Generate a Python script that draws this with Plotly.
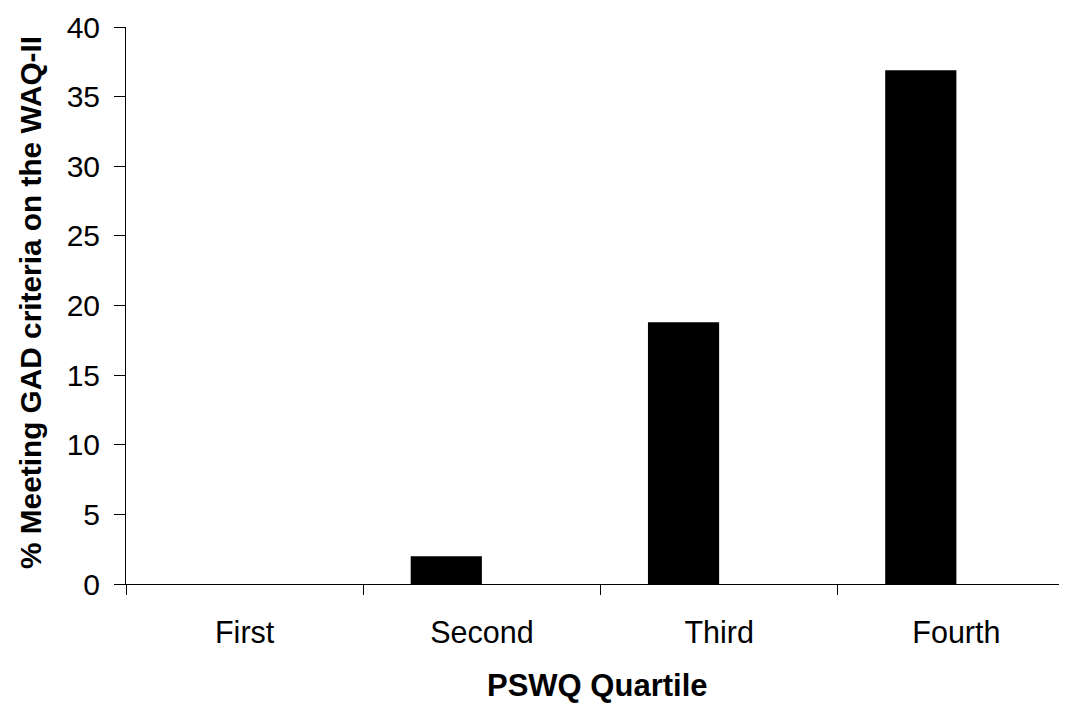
import plotly.graph_objects as go

categories = ["First", "Second", "Third", "Fourth"]
values = [0, 2, 18.8, 36.9]
y_ticks = [0, 5, 10, 15, 20, 25, 30, 35, 40]

FONT = "Liberation Sans, Arial, sans-serif"

fig = go.Figure()
fig.add_trace(go.Bar(
    x=categories, y=values,
    marker=dict(color="black", line=dict(width=0)),
    width=0.3, offset=-0.3,
    showlegend=False,
))

W, H = 1067, 704
ml, mr, mt, mb = 118, 0, 19, 128
pw = W - ml - mr
ph = H - mt - mb
base = mt + ph  # figure y of the x axis

fig.update_layout(
    width=W, height=H,
    margin=dict(l=ml, r=mr, t=mt, b=mb),
    paper_bgcolor="white", plot_bgcolor="white",
    font=dict(family=FONT, color="black", size=30),
    xaxis=dict(
        type="category",
        range=[-0.5, 3.5],
        showline=True, linecolor="black", linewidth=1,
        ticks="outside", tickson="boundaries", ticklen=10, tickcolor="black",
        showgrid=False, zeroline=False,
        tickfont=dict(size=30.5),
        ticklabelstandoff=21,
    ),
    yaxis=dict(
        range=[0, 40],
        tickvals=y_ticks,
        showline=True, linecolor="black", linewidth=1,
        ticks="outside", ticklen=11, tickcolor="black",
        showgrid=False, zeroline=False,
        tickfont=dict(size=30),
        ticklabelstandoff=8,
    ),
    annotations=[
        dict(text="<b>PSWQ Quartile</b>", xref="paper", yref="paper",
             x=(589 - ml) / pw, y=-(677 - base) / ph,
             xanchor="center", yanchor="middle", showarrow=False,
             font=dict(size=31, family=FONT)),
        dict(text="<b>% Meeting GAD criteria on the WAQ-II</b>", xref="paper", yref="paper",
             x=(22 - ml) / pw, y=(base - 295) / ph,
             xanchor="center", yanchor="middle", textangle=-90, showarrow=False,
             font=dict(size=29.8, family=FONT)),
    ],
)

fig.write_html("out.html")
